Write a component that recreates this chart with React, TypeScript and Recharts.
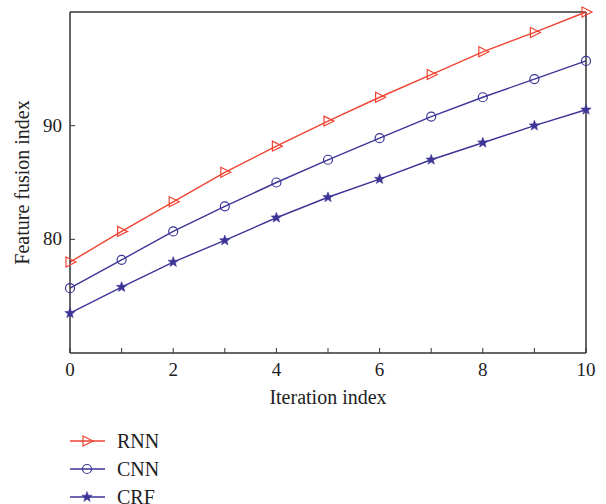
import { LineChart, Line, XAxis, YAxis, ReferenceLine } from "recharts";

const iterations = [0, 1, 2, 3, 4, 5, 6, 7, 8, 9, 10];
const rnn = [78.0, 80.7, 83.3, 85.9, 88.2, 90.4, 92.5, 94.5, 96.5, 98.2, 100];
const cnn = [75.7, 78.2, 80.7, 82.9, 85.0, 87.0, 88.9, 90.8, 92.5, 94.1, 95.7];
const crf = [73.5, 75.8, 78.0, 79.9, 81.9, 83.7, 85.3, 87.0, 88.5, 90.0, 91.4];
const xTicks = [0, 1, 2, 3, 4, 5, 6, 7, 8, 9, 10];
const yTicks = [80, 90];

const data = iterations.map((it, i) => ({ it, RNN: rnn[i], CNN: cnn[i], CRF: crf[i] }));

const RED = "#ee4433";
const BLUE = "#3d3596";
const AXIS = "#333333";
const FONT = "'Liberation Serif', 'DejaVu Serif', serif";

function starPath(cx: number, cy: number, r: number) {
  const pts: string[] = [];
  for (let i = 0; i < 10; i++) {
    const rr = i % 2 === 0 ? r : r * 0.42;
    const a = -Math.PI / 2 + (i * Math.PI) / 5;
    pts.push(`${cx + rr * Math.cos(a)},${cy + rr * Math.sin(a)}`);
  }
  return "M" + pts.join("L") + "Z";
}

function Marker({ kind, cx, cy }: { kind: string; cx: number; cy: number }) {
  if (kind === "RNN") {
    return (
      <path
        d={`M${cx - 4},${cy - 5}L${cx + 6},${cy}L${cx - 4},${cy + 5}Z`}
        fill="none"
        stroke={RED}
        strokeWidth={1.2}
      />
    );
  }
  if (kind === "CNN") {
    return <circle cx={cx} cy={cy} r={4.5} fill="none" stroke={BLUE} strokeWidth={1.2} />;
  }
  return <path d={starPath(cx, cy, 5.5)} fill={BLUE} stroke={BLUE} strokeWidth={0.5} />;
}

const dotFor = (kind: string) => (props: any) =>
  <Marker key={`${kind}-${props.index}`} kind={kind} cx={props.cx} cy={props.cy} />;

function XTick(props: any) {
  const { x, y, payload } = props;
  const v = payload.value;
  return (
    <g>
      <line x1={x} y1={y} x2={x} y2={y - 5} stroke={AXIS} strokeWidth={1} />
      {v % 2 === 0 && (
        <text x={x} y={y + 23} textAnchor="middle" fontFamily={FONT} fontSize={19} fill="#222">
          {v}
        </text>
      )}
    </g>
  );
}

function YTick(props: any) {
  const { x, y, payload } = props;
  return (
    <g>
      <line x1={x} y1={y} x2={x + 5} y2={y} stroke={AXIS} strokeWidth={1} />
      <text x={x - 8} y={y + 6} textAnchor="end" fontFamily={FONT} fontSize={19} fill="#222">
        {payload.value}
      </text>
    </g>
  );
}

const legendItems = [
  { name: "RNN", color: RED },
  { name: "CNN", color: BLUE },
  { name: "CRF", color: BLUE },
];

function LegendBox() {
  return (
    <svg width={120} height={80} style={{ display: "block" }}>
      {legendItems.map((it, i) => {
        const cy = 12 + i * 28;
        return (
          <g key={it.name}>
            <line x1={2} y1={cy} x2={37} y2={cy} stroke={it.color} strokeWidth={1.4} />
            <Marker kind={it.name} cx={19} cy={cy} />
            <text x={49} y={cy + 7} fontFamily={FONT} fontSize={20} fill="#222">
              {it.name}
            </text>
          </g>
        );
      })}
    </svg>
  );
}

export default function App() {
  return (
    <div style={{ position: "absolute", left: 0, top: 0, width: 606, height: 504, background: "#fff", overflow: "hidden" }}>
      <LineChart width={606} height={504} data={data} margin={{ top: 12, right: 20, bottom: 121, left: 30 }}>
        <XAxis
          dataKey="it"
          type="number"
          domain={[0, 10]}
          ticks={xTicks}
          interval={0}
          tickSize={0}
          tickMargin={0}
          tick={<XTick />}
          stroke={AXIS}
          strokeWidth={1.5}
          label={{ value: "Iteration index", position: "insideBottom", offset: -21, fontFamily: FONT, fontSize: 20, fill: "#222" }}
        />
        <YAxis
          type="number"
          domain={[70, 100]}
          ticks={yTicks}
          width={40}
          tickSize={0}
          tickMargin={0}
          tick={<YTick />}
          stroke={AXIS}
          strokeWidth={1.5}
          label={{ value: "Feature fusion index", angle: -90, position: "center", dx: -28, fontFamily: FONT, fontSize: 20, fill: "#222" }}
        />
        <ReferenceLine y={100} stroke={AXIS} strokeWidth={1.5} />
        <ReferenceLine x={10} stroke={AXIS} strokeWidth={1.5} />
        <Line dataKey="RNN" stroke={RED} strokeWidth={1.4} dot={dotFor("RNN")} isAnimationActive={false} />
        <Line dataKey="CNN" stroke={BLUE} strokeWidth={1.4} dot={dotFor("CNN")} isAnimationActive={false} />
        <Line dataKey="CRF" stroke={BLUE} strokeWidth={1.4} dot={dotFor("CRF")} isAnimationActive={false} />
      </LineChart>
      <div style={{ position: "absolute", left: 68, top: 429 }}>
        <LegendBox />
      </div>
    </div>
  );
}
